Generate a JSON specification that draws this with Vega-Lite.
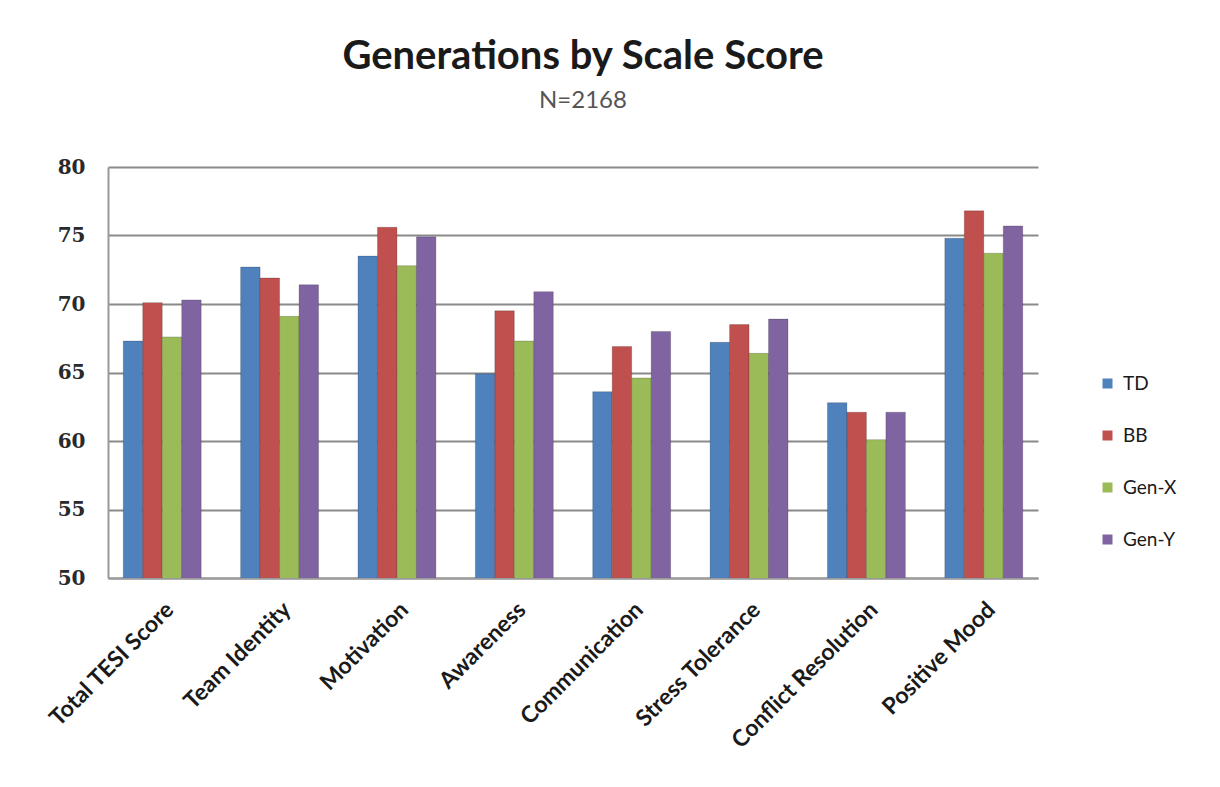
{
  "$schema": "https://vega.github.io/schema/vega-lite/v6.json",
  "autosize": "none",
  "width": 930,
  "height": 411,
  "padding": {"left": 108, "top": 167, "right": 182, "bottom": 209},
  "background": "white",
  "title": {
    "text": "Generations by Scale Score",
    "subtitle": "N=2168",
    "anchor": "middle",
    "dx": 10,
    "offset": 44,
    "font": "Lato",
    "fontSize": 40,
    "fontWeight": "bold",
    "color": "#1a1a1a",
    "subtitleFont": "Lato",
    "subtitleFontSize": 24,
    "subtitleColor": "#555555",
    "subtitlePadding": 12
  },
  "data": {
    "values": [
      {"scale": "Total TESI Score", "gen": "TD", "score": 67.3},
      {"scale": "Total TESI Score", "gen": "BB", "score": 70.1},
      {"scale": "Total TESI Score", "gen": "Gen-X", "score": 67.6},
      {"scale": "Total TESI Score", "gen": "Gen-Y", "score": 70.3},
      {"scale": "Team Identity", "gen": "TD", "score": 72.7},
      {"scale": "Team Identity", "gen": "BB", "score": 71.9},
      {"scale": "Team Identity", "gen": "Gen-X", "score": 69.1},
      {"scale": "Team Identity", "gen": "Gen-Y", "score": 71.4},
      {"scale": "Motivation", "gen": "TD", "score": 73.5},
      {"scale": "Motivation", "gen": "BB", "score": 75.6},
      {"scale": "Motivation", "gen": "Gen-X", "score": 72.8},
      {"scale": "Motivation", "gen": "Gen-Y", "score": 74.9},
      {"scale": "Awareness", "gen": "TD", "score": 64.9},
      {"scale": "Awareness", "gen": "BB", "score": 69.5},
      {"scale": "Awareness", "gen": "Gen-X", "score": 67.3},
      {"scale": "Awareness", "gen": "Gen-Y", "score": 70.9},
      {"scale": "Communication", "gen": "TD", "score": 63.6},
      {"scale": "Communication", "gen": "BB", "score": 66.9},
      {"scale": "Communication", "gen": "Gen-X", "score": 64.6},
      {"scale": "Communication", "gen": "Gen-Y", "score": 68.0},
      {"scale": "Stress Tolerance", "gen": "TD", "score": 67.2},
      {"scale": "Stress Tolerance", "gen": "BB", "score": 68.5},
      {"scale": "Stress Tolerance", "gen": "Gen-X", "score": 66.4},
      {"scale": "Stress Tolerance", "gen": "Gen-Y", "score": 68.9},
      {"scale": "Conflict Resolution", "gen": "TD", "score": 62.8},
      {"scale": "Conflict Resolution", "gen": "BB", "score": 62.1},
      {"scale": "Conflict Resolution", "gen": "Gen-X", "score": 60.1},
      {"scale": "Conflict Resolution", "gen": "Gen-Y", "score": 62.1},
      {"scale": "Positive Mood", "gen": "TD", "score": 74.8},
      {"scale": "Positive Mood", "gen": "BB", "score": 76.8},
      {"scale": "Positive Mood", "gen": "Gen-X", "score": 73.7},
      {"scale": "Positive Mood", "gen": "Gen-Y", "score": 75.7}
    ]
  },
  "mark": {"type": "bar", "clip": true, "stroke": "#000000", "strokeOpacity": 0.18, "strokeWidth": 1},
  "encoding": {
    "x": {
      "field": "scale",
      "type": "nominal",
      "sort": null,
      "title": null,
      "scale": {"paddingInner": 0.336, "paddingOuter": 0.13},
      "axis": {
        "labelAngle": -45,
        "labelFont": "Lato",
        "labelFontSize": 23,
        "labelFontWeight": "bold",
        "labelColor": "#1a1a1a",
        "labelPadding": 20,
        "labelLimit": 300,
        "ticks": false,
        "domainColor": "#999999",
        "domainWidth": 2,
        "grid": false
      }
    },
    "xOffset": {"field": "gen", "type": "nominal", "sort": ["TD", "BB", "Gen-X", "Gen-Y"], "scale": {"paddingInner": 0}},
    "y": {
      "field": "score",
      "type": "quantitative",
      "title": null,
      "scale": {"domain": [50, 80], "zero": false},
      "axis": {
        "values": [50, 55, 60, 65, 70, 75, 80],
        "labelFont": "DejaVu Serif",
        "labelFontSize": 20,
        "labelFontWeight": "bold",
        "labelColor": "#2a2a2a",
        "labelPadding": 23,
        "ticks": false,
        "domainColor": "#999999",
        "domainWidth": 2,
        "grid": true,
        "gridColor": "#8a8a8a",
        "gridWidth": 2
      }
    },
    "color": {
      "field": "gen",
      "type": "nominal",
      "sort": ["TD", "BB", "Gen-X", "Gen-Y"],
      "scale": {"domain": ["TD", "BB", "Gen-X", "Gen-Y"], "range": ["#4F81BD", "#C0504D", "#9BBB59", "#8064A2"]},
      "legend": {
        "title": null,
        "orient": "none",
        "legendX": 990,
        "legendY": 207,
        "symbolType": "square",
        "symbolSize": 100,
        "symbolStrokeWidth": 0,
        "labelFont": "Lato",
        "labelFontSize": 19,
        "labelColor": "#1a1a1a",
        "rowPadding": 32,
        "labelOffset": 6
      }
    }
  },
  "config": {"view": {"stroke": null}}
}
